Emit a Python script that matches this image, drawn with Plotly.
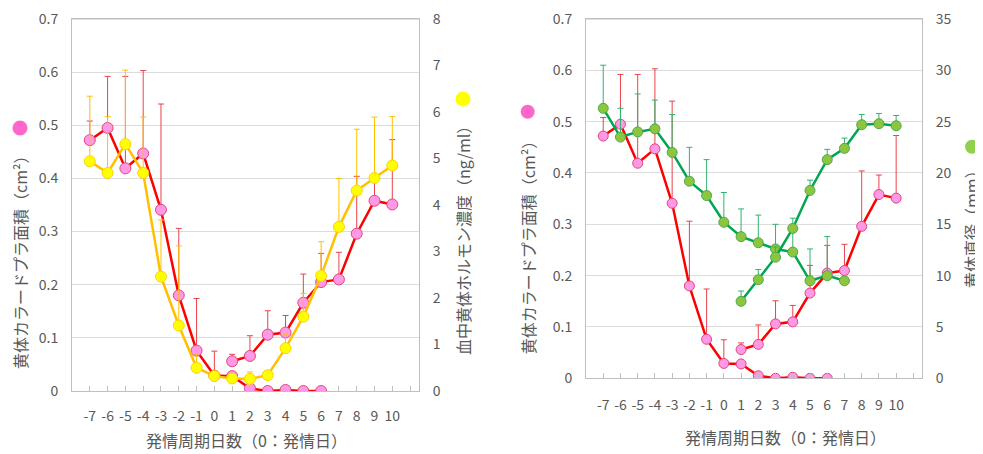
import plotly.graph_objects as go

# ---------------- data ----------------
days_all = [-7, -6, -5, -4, -3, -2, -1, 0, 1, 2, 3, 4, 5, 6, 7, 8, 9, 10]
days_old_pink = [-7, -6, -5, -4, -3, -2, -1, 0, 1, 2, 3, 4, 5, 6]
days_old_green = [-7, -6, -5, -4, -3, -2, -1, 0, 1, 2, 3, 4, 5, 6, 7]
days_new = [1, 2, 3, 4, 5, 6, 7, 8, 9, 10]
tick_days = [-7, -6, -5, -4, -3, -2, -1, 0, 1, 2, 3, 4, 5, 6, 7, 8, 9, 10, 11]
tick_text = ["-7", "-6", "-5", "-4", "-3", "-2", "-1", "0", "1", "2", "3", "4", "5", "6", "7", "8", "9", "10", ""]

# corpus luteum colour-Doppler area (cm2): regressing CL and new CL
area_old = [0.472, 0.495, 0.419, 0.447, 0.341, 0.180, 0.076, 0.029, 0.028, 0.005, 0.000, 0.002, 0.000, 0.000]
area_old_err = [0.036, 0.097, 0.173, 0.156, 0.199, 0.126, 0.098, 0.046, 0.0, 0.0, 0.0, 0.0, 0.0, 0.0]
area_new = [0.056, 0.066, 0.106, 0.110, 0.166, 0.205, 0.210, 0.296, 0.358, 0.351]
area_new_err = [0.013, 0.038, 0.045, 0.032, 0.054, 0.054, 0.051, 0.108, 0.038, 0.122]

# blood progesterone (ng/ml)
prog = [4.94, 4.69, 5.31, 4.69, 2.46, 1.41, 0.50, 0.32, 0.27, 0.26, 0.34, 0.92, 1.60, 2.48, 3.53, 4.31, 4.58, 4.85]
prog_err = [1.40, 1.21, 1.59, 1.20, 1.22, 1.71, 0.30, 0.10, 0.10, 0.15, 0.10, 0.30, 0.50, 0.73, 1.04, 1.32, 1.31, 1.05]

# corpus luteum diameter (mm)
diam_old = [26.3, 23.5, 24.0, 24.3, 22.0, 19.2, 17.8, 15.2, 13.8, 13.2, 12.6, 12.3, 9.5, 10.0, 9.5]
diam_old_err = [4.2, 2.8, 3.7, 2.8, 3.7, 3.3, 3.5, 2.9, 2.7, 2.7, 2.4, 2.6, 3.1, 3.8, 0.0]
diam_new = [7.5, 9.6, 11.8, 14.6, 18.3, 21.3, 22.4, 24.7, 24.8, 24.6]
diam_new_err = [1.0, 1.0, 1.0, 1.0, 1.0, 1.0, 1.0, 1.0, 1.0, 1.0]

# ---------------- styles ----------------
OX, OY = 8, 8          # page body margin offset
W, H = 983 - OX, 454 - OY
FONT = "Noto Sans CJK JP"
TXT = "#595959"
PINK_FILL, PINK_LINE = "#FF99E6", "#E0457F"
RED, RED_ERR = "#FF0000", "#E8434B"
YEL_FILL, YEL_LINE, ORANGE = "#FFFF00", "#FFD200", "#FFC000"
GRN_FILL, GRN_LINE, GREEN, GRN_ERR = "#8CC63F", "#4DA84D", "#00A650", "#30B46C"
BOX = "#BFBFBF"
GRID = "#DCDCDC"


def px(x):
    return (x - OX) / W


def py(y):
    return 1 - (y - OY) / H


def series(x, y, err, xa, ya, line_c, fill_c, edge_c, err_c, size=11):
    return go.Scatter(
        x=x, y=y, xaxis=xa, yaxis=ya, mode="lines+markers",
        line=dict(color=line_c, width=2.5),
        marker=dict(size=size, color=fill_c, line=dict(color=edge_c, width=1)),
        error_y=dict(type="data", array=err, arrayminus=[0] * len(err), symmetric=False,
                     color=err_c, thickness=1, width=3),
        showlegend=False, hoverinfo="x+y",
    )


fig = go.Figure()
# left panel
fig.add_trace(series(days_old_pink, area_old, area_old_err, "x", "y", RED, PINK_FILL, PINK_LINE, RED_ERR))
fig.add_trace(series(days_new, area_new, area_new_err, "x", "y", RED, PINK_FILL, PINK_LINE, RED_ERR))
fig.add_trace(series(days_all, prog, prog_err, "x", "y2", ORANGE, YEL_FILL, YEL_LINE, ORANGE))
# right panel
fig.add_trace(series(days_old_pink, area_old, area_old_err, "x2", "y3", RED, PINK_FILL, PINK_LINE, RED_ERR, 10))
fig.add_trace(series(days_new, area_new, area_new_err, "x2", "y3", RED, PINK_FILL, PINK_LINE, RED_ERR, 10))
fig.add_trace(series(days_old_green, diam_old, diam_old_err, "x2", "y4", GREEN, GRN_FILL, GRN_LINE, GRN_ERR, 10))
fig.add_trace(series(days_new, diam_new, diam_new_err, "x2", "y4", GREEN, GRN_FILL, GRN_LINE, GRN_ERR, 10))

xcommon = dict(range=[-8, 11.5], tickmode="array", tickvals=tick_days, ticktext=tick_text,
               ticks="inside", ticklen=5, tickcolor=BOX, showline=True, linecolor=BOX, mirror=True,
               showgrid=False, zeroline=False, tickfont=dict(size=14, color=TXT, family=FONT),
               automargin=False, ticklabeloverflow="allow")
ycommon = dict(showline=True, linecolor=BOX, zeroline=False, ticks="", automargin=False,
               tickfont=dict(size=14, color=TXT, family=FONT), ticklabelstandoff=10,
               ticklabeloverflow="allow")

fig.update_layout(
    width=W, height=H, margin=dict(l=0, r=0, t=0, b=0, pad=0, autoexpand=False),
    autosize=False,
    paper_bgcolor="white", plot_bgcolor="white",
    font=dict(family=FONT, color=TXT),
    xaxis=dict(domain=[px(72), px(419)], anchor="y", ticklabelstandoff=12, **xcommon),
    yaxis=dict(domain=[py(391), py(19)], anchor="x", range=[0, 0.7], dtick=0.1,
               showgrid=True, gridcolor=GRID, mirror=True, tickformat=".1~f", **ycommon),
    yaxis2=dict(overlaying="y", side="right", anchor="x", range=[0, 8], dtick=1,
                showgrid=False, **ycommon),
    xaxis2=dict(domain=[px(586), px(922)], anchor="y3", ticklabelstandoff=14, **xcommon),
    yaxis3=dict(domain=[py(378.3), py(19)], anchor="x2", range=[0, 0.7], dtick=0.1,
                showgrid=True, gridcolor=GRID, mirror=True, tickformat=".1~f", **ycommon),
    yaxis4=dict(overlaying="y3", side="right", anchor="x2", range=[0, 35], dtick=5,
                showgrid=False, **ycommon),
)

ann = []
def title(text, x, y, angle=0):
    ann.append(dict(text=text, x=px(x), y=py(y), xref="paper", yref="paper", showarrow=False,
                    textangle=angle, xanchor="center", yanchor="middle",
                    font=dict(size=16, color=TXT, family=FONT)))

title("黄体カラードプラ面積（cm²）", 20, 258, -90)
title("血中黄体ホルモン濃度（ng/ml）", 463, 237, -90)
title("発情周期日数（0：発情日）", 246, 440)
title("黄体カラードプラ面積（cm²）", 527.7, 243.5, -90)
title("黄体直径（mm）", 971, 225, -90)
title("発情周期日数（0：発情日）", 785, 437)
fig.update_layout(annotations=ann)

shapes = []
def dot(x, y, color, r=7.5):
    shapes.append(dict(type="circle", xref="paper", yref="paper", xsizemode="pixel", ysizemode="pixel",
                       xanchor=px(x), yanchor=py(y), x0=-r, x1=r, y0=-r, y1=r,
                       fillcolor=color, line=dict(width=0)))

dot(20, 128, "#FF66CC")
dot(463, 99, "#FFFF00")
dot(527.7, 111.7, "#FF66CC", 7)
dot(972, 146.7, "#92D050", 7)
# top border of each plotting area
for xd, yd in (("x domain", "y domain"), ("x2 domain", "y3 domain")):
    shapes.append(dict(type="line", xref=xd, yref=yd, x0=0, x1=1, y0=1, y1=1,
                       line=dict(color=BOX, width=1), layer="above"))
fig.update_layout(shapes=shapes)

fig.write_html("out.html")
